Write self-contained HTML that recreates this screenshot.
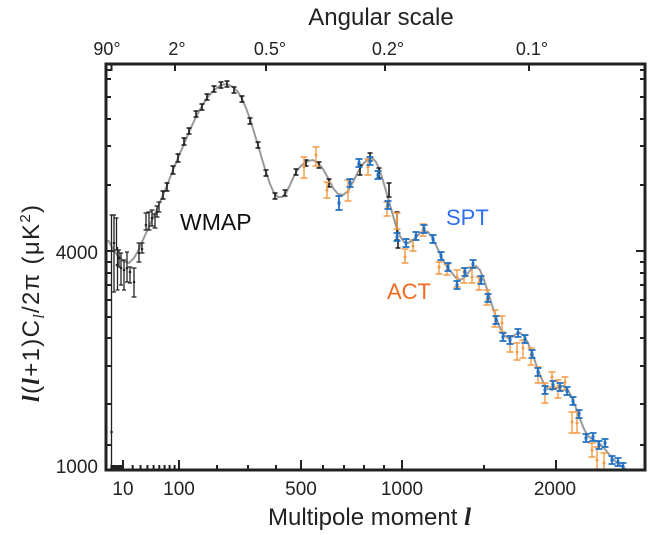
<!DOCTYPE html>
<html><head><meta charset="utf-8"><style>
html,body{margin:0;padding:0;background:#fff;}
svg{display:block;font-family:"Liberation Sans",Arial,sans-serif;}
</style></head><body>
<svg width="670" height="535" viewBox="0 0 670 535" xmlns="http://www.w3.org/2000/svg">
<rect width="670" height="535" fill="#fff"/>
<!-- titles -->
<text x="381" y="25" font-size="24" text-anchor="middle" fill="#222">Angular scale</text>
<text x="107" y="55" font-size="18" text-anchor="middle" fill="#222">90°</text>
<text x="177" y="55" font-size="18" text-anchor="middle" fill="#222">2°</text>
<text x="270" y="55" font-size="18" text-anchor="middle" fill="#222">0.5°</text>
<text x="388" y="55" font-size="18" text-anchor="middle" fill="#222">0.2°</text>
<text x="532" y="55" font-size="18" text-anchor="middle" fill="#222">0.1°</text>
<text x="123" y="495" font-size="19" text-anchor="middle" fill="#222">10</text>
<text x="179" y="495" font-size="19" text-anchor="middle" fill="#222">100</text>
<text x="301" y="495" font-size="19" text-anchor="middle" fill="#222">500</text>
<text x="402" y="495" font-size="19" text-anchor="middle" fill="#222">1000</text>
<text x="555" y="495" font-size="19" text-anchor="middle" fill="#222">2000</text>
<text x="268" y="525" font-size="24" fill="#222">Multipole moment <tspan font-family="Liberation Serif,serif" font-style="italic" font-weight="bold" font-size="25">l</tspan></text>
<text x="98" y="259" font-size="19" text-anchor="end" fill="#222">4000</text>
<text x="98" y="473" font-size="19" text-anchor="end" fill="#222">1000</text>
<text transform="translate(39,402) rotate(-90)" font-size="24" fill="#222" textLength="197" lengthAdjust="spacing"><tspan font-family="Liberation Serif,serif" font-style="italic" font-weight="bold">l</tspan>(<tspan font-family="Liberation Serif,serif" font-style="italic" font-weight="bold">l</tspan>+1)C<tspan font-family="Liberation Serif,serif" font-style="italic" font-size="16" dy="5">l</tspan><tspan dy="-5">/2π (μK</tspan><tspan font-size="15" dy="-9">2</tspan><tspan dy="9">)</tspan></text>

<!-- ticks -->
<g stroke="#222" stroke-width="2" fill="none">
<path d="M111.5 64v7M175 64v7M266 64v7M385 64v7M529 64v7"/>
<path d="M123 470v-10M179 470v-10M301 470v-10M402 470v-10M556 470v-10"/>
<path d="M111.4 470v-5M113.3 470v-5M115 470v-5M116.6 470v-5M118 470v-5M119.4 470v-5M120.6 470v-5M121.8 470v-5M132.7 470v-5M140.5 470v-5M147.4 470v-5M153.6 470v-5M159.3 470v-5M164.6 470v-5M169.6 470v-5M174.6 470v-5M217 470v-5M248 470v-5M276 470v-5M323 470v-5M344 470v-5M364 470v-5M384 470v-5M484 470v-5"/>
<path d="M106 70h5M106 79h5M106 97h5M106 119h5M106 146h5M106 185h5M106 251h9M106 262h5M106 273h5M106 285h5M106 300h5M106 317h5M106 338h5M106 366h5M106 404h5M106 445h5"/>
<path d="M645 70h-5M645 79h-5M645 97h-5M645 119h-5M645 146h-5M645 185h-5M645 251h-9M645 262h-5M645 273h-5M645 285h-5M645 300h-5M645 317h-5M645 338h-5M645 366h-5M645 404h-5M645 445h-5"/>
</g>

<!-- theory curve -->
<polyline fill="none" stroke="#9a9a9a" stroke-width="2" points="108,240 112,247 117,255 123,261 129,263 134,258 138,251 142,242 147,231 152,220 158,207 163,195 168,183 173,170 178,158 184,144 189,132 196,117 202,106 207,98 214,90 221,85 227,84 233,87 238,92 242,99 246,108 250,119 254,132 258,145 262,159 266,172 270,184 274,193 278,197 282,197 286,193 290,185 294,176 298,169 303,164 308,161 313,160 318,163 323,169 328,178 333,188 338,194 343,195 348,191 353,182 358,172 363,164 368,159 372,158 376,162 380,171 384,184 388,198 392,212 396,226 400,236 404,242 408,243 412,241 416,237 420,233 424,231 428,232 432,237 436,245 440,254 444,262 448,268 452,273 456,278 460,280 464,278 468,273 472,268 476,266 480,270 484,280 488,292 492,305 496,317 500,328 504,335 508,338 512,337 516,334 520,333 524,336 528,343 532,353 536,364 540,375 544,384 548,389 552,390 556,388 560,386 564,386 568,390 572,398 576,408 580,419 584,429 588,436 592,439 596,441 600,444 604,448 608,453 612,458 616,462 620,465 624,468 627,470"/>

<!-- WMAP points -->
<g stroke="#222" stroke-width="1.3" fill="none">
<path d="M111.5 215V468M109.5 215h4"/>
<path d="M114 215V292M112 215h4M112 292h4"/>
<path d="M116.5 218V250M114.5 218h4M114.5 250h4"/>
<path d="M117.5 247V290M115.5 290h4"/>
<path d="M119 250V267M117 250h4M117 267h4"/>
<path d="M121 253V285M119 253h4M119 285h4"/>
<path d="M124 260V290M122 260h4M122 290h4"/>
<path d="M127 252V282M125 252h4M125 282h4"/>
<path d="M130 267V283M128 267h4M128 283h4"/>
<path d="M134 268V297M131.5 268h5M131.5 297h5"/>
<path d="M139 243V262M136.5 243h5M136.5 262h5"/>
<path d="M142 243V253M139.5 243h5M139.5 253h5"/>
<path d="M146 213V230M143.5 213h5M143.5 230h5"/>
<path d="M149 212V230M146.5 212h5M146.5 230h5"/>
<path d="M152 210V226M149.5 210h5M149.5 226h5"/>
<path d="M155 214V228M152.5 214h5M152.5 228h5"/>
<path d="M157 206V217M154.5 206h5M154.5 217h5"/>
<path d="M159 202V212M156.5 202h5M156.5 212h5"/>
</g>
<g fill="#222">
<circle cx="111.5" cy="432" r="1.3"/><circle cx="114" cy="243" r="1.3"/><circle cx="117" cy="265" r="1.3"/><circle cx="119" cy="258" r="1.3"/><circle cx="121" cy="268" r="1.3"/><circle cx="124" cy="270" r="1.3"/><circle cx="127" cy="268" r="1.3"/><circle cx="130" cy="272" r="1.3"/><circle cx="134" cy="282" r="1.3"/><circle cx="139" cy="253" r="1.3"/><circle cx="142" cy="249" r="1.3"/><circle cx="146" cy="225" r="1.3"/><circle cx="152" cy="218" r="1.3"/><circle cx="157" cy="212" r="1.3"/>
</g>
<g stroke="#1a1a1a" stroke-width="1.6" fill="none">
<path d="M163 191V199M160.5 191h5M160.5 199h5"/>
<path d="M167 183V191M164.5 183h5M164.5 191h5"/>
<path d="M173 166V174M170.5 166h5M170.5 174h5"/>
<path d="M178 154V162M175.5 154h5M175.5 162h5"/>
<path d="M184 138V145M181.5 138h5M181.5 145h5"/>
<path d="M189 128V134M186.5 128h5M186.5 134h5"/>
<path d="M196 111V117M193.5 111h5M193.5 117h5"/>
<path d="M202 104V110M199.5 104h5M199.5 110h5"/>
<path d="M207 94V100M204.5 94h5M204.5 100h5"/>
<path d="M214 86V92M211.5 86h5M211.5 92h5"/>
<path d="M221 82V88M218.5 82h5M218.5 88h5"/>
<path d="M227 81V87M224.5 81h5M224.5 87h5"/>
<path d="M234 87V93M231.5 87h5M231.5 93h5"/>
<path d="M242 96V102M239.5 96h5M239.5 102h5"/>
<path d="M250 118V124M247.5 118h5M247.5 124h5"/>
<path d="M258 142V148M255.5 142h5M255.5 148h5"/>
<path d="M266 170V176M263.5 170h5M263.5 176h5"/>
<path d="M275 193V199M272.5 193h5M272.5 199h5"/>
<path d="M285 190V196M282.5 190h5M282.5 196h5"/>
<path d="M296 169V175M293.5 169h5M293.5 175h5"/>
<path d="M306 160V166M303.5 160h5M303.5 166h5"/>
<path d="M319 162V168M316.5 162h5M316.5 168h5"/>
<path d="M329 179V187M326.5 179h5M326.5 187h5"/>
<path d="M360 165V175M357.5 165h5M357.5 175h5"/>
<path d="M370 153V161M367.5 153h5M367.5 161h5"/>
<path d="M379 168V178M376.5 168h5M376.5 178h5"/>
<path d="M389 183V197M386.5 183h5M386.5 197h5"/>
<path d="M397 212V240M394.5 212h5M394.5 240h5"/>
<path d="M398 240V248M395.5 248h5"/>
</g>

<!-- ACT orange -->
<g stroke="#f39a45" stroke-width="1.4" fill="none">
<path d="M304 157V178M300.5 157h7M300.5 178h7"/>
<path d="M316 147V166M312.5 147h7M312.5 166h7"/>
<path d="M327 182V198M323.5 182h7M323.5 198h7"/>
<path d="M348 180V201M344.5 180h7M344.5 201h7"/>
<path d="M368 159V175M364.5 159h7M364.5 175h7"/>
<path d="M387 202V216M383.5 202h7M383.5 216h7"/>
<path d="M397 213V229M393.5 213h7M393.5 229h7"/>
<path d="M405 249V263M401.5 249h7M401.5 263h7"/>
<path d="M413 240V251M409.5 240h7M409.5 251h7"/>
<path d="M423 224V236M419.5 224h7M419.5 236h7"/>
<path d="M439 262V274M435.5 262h7M435.5 274h7"/>
<path d="M447 264V275M443.5 264h7M443.5 275h7"/>
<path d="M457 270V287M453.5 270h7M453.5 287h7"/>
<path d="M464 268V283M460.5 268h7M460.5 283h7"/>
<path d="M472 267V283M468.5 267h7M468.5 283h7"/>
<path d="M479 277V290M475.5 277h7M475.5 290h7"/>
<path d="M487 290V305M483.5 290h7M483.5 305h7"/>
<path d="M495 310V327M491.5 310h7M491.5 327h7"/>
<path d="M502 316V332M498.5 316h7M498.5 332h7"/>
<path d="M510 336V352M506.5 336h7M506.5 352h7"/>
<path d="M517 343V360M513.5 343h7M513.5 360h7"/>
<path d="M523 340V358M519.5 340h7M519.5 358h7"/>
<path d="M531 348V365M527.5 348h7M527.5 365h7"/>
<path d="M538 367V383M534.5 367h7M534.5 383h7"/>
<path d="M545 383V403M541.5 383h7M541.5 403h7"/>
<path d="M552 372V387M548.5 372h7M548.5 387h7"/>
<path d="M558 380V398M554.5 380h7M554.5 398h7"/>
<path d="M565 377V390M561.5 377h7M561.5 390h7"/>
<path d="M572 412V433M568.5 412h7M568.5 433h7"/>
<path d="M577 412V433M573.5 412h7M573.5 433h7"/>
<path d="M592 443V457M588.5 443h7M588.5 457h7"/>
<path d="M597 447V470M593.5 447h7"/>
<path d="M604 453V470M600.5 453h7"/>
</g>
<g fill="#f39a45">
<circle cx="304" cy="167" r="1.5"/><circle cx="316" cy="155" r="1.5"/><circle cx="327" cy="190" r="1.5"/><circle cx="348" cy="192" r="1.5"/><circle cx="368" cy="167" r="1.5"/><circle cx="387" cy="207" r="1.5"/><circle cx="397" cy="220" r="1.5"/><circle cx="405" cy="257" r="1.5"/><circle cx="413" cy="246" r="1.5"/><circle cx="423" cy="230" r="1.5"/><circle cx="439" cy="267" r="1.5"/><circle cx="447" cy="270" r="1.5"/><circle cx="457" cy="277" r="1.5"/><circle cx="464" cy="272" r="1.5"/><circle cx="472" cy="277" r="1.5"/><circle cx="479" cy="283" r="1.5"/><circle cx="487" cy="300" r="1.5"/><circle cx="495" cy="317" r="1.5"/><circle cx="502" cy="323" r="1.5"/><circle cx="510" cy="343" r="1.5"/><circle cx="517" cy="352" r="1.5"/><circle cx="523" cy="348" r="1.5"/><circle cx="531" cy="355" r="1.5"/><circle cx="538" cy="375" r="1.5"/><circle cx="545" cy="393" r="1.5"/><circle cx="552" cy="377" r="1.5"/><circle cx="558" cy="387" r="1.5"/><circle cx="565" cy="382" r="1.5"/><circle cx="572" cy="422" r="1.5"/><circle cx="577" cy="423" r="1.5"/><circle cx="592" cy="450" r="1.5"/><circle cx="597" cy="460" r="1.5"/><circle cx="604" cy="463" r="1.5"/>
</g>

<!-- SPT blue -->
<g stroke="#1f70c4" stroke-width="1.8" fill="none">
<path d="M339 196V210M335.5 196h7M335.5 210h7"/>
<path d="M350 179V187M346.5 179h7M346.5 187h7"/>
<path d="M359 159V167M355.5 159h7M355.5 167h7"/>
<path d="M370 157V165M366.5 157h7M366.5 165h7"/>
<path d="M378 171V179M374.5 171h7M374.5 179h7"/>
<path d="M388 201V209M384.5 201h7M384.5 209h7"/>
<path d="M397 233V241M393.5 233h7M393.5 241h7"/>
<path d="M406 239V247M402.5 239h7M402.5 247h7"/>
<path d="M416 232V240M412.5 232h7M412.5 240h7"/>
<path d="M424 225V233M420.5 225h7M420.5 233h7"/>
<path d="M433 235V243M429.5 235h7M429.5 243h7"/>
<path d="M441 252V260M437.5 252h7M437.5 260h7"/>
<path d="M448 263V271M444.5 263h7M444.5 271h7"/>
<path d="M457 281V289M453.5 281h7M453.5 289h7"/>
<path d="M465 268V276M461.5 268h7M461.5 276h7"/>
<path d="M473 260V268M469.5 260h7M469.5 268h7"/>
<path d="M481 276V284M477.5 276h7M477.5 284h7"/>
<path d="M488 294V302M484.5 294h7M484.5 302h7"/>
<path d="M496 316V324M492.5 316h7M492.5 324h7"/>
<path d="M503 333V341M499.5 333h7M499.5 341h7"/>
<path d="M510 336V344M506.5 336h7M506.5 344h7"/>
<path d="M518 329V337M514.5 329h7M514.5 337h7"/>
<path d="M525 335V343M521.5 335h7M521.5 343h7"/>
<path d="M532 350V358M528.5 350h7M528.5 358h7"/>
<path d="M538 368V376M534.5 368h7M534.5 376h7"/>
<path d="M545 386V394M541.5 386h7M541.5 394h7"/>
<path d="M553 381V389M549.5 381h7M549.5 389h7"/>
<path d="M560 383V391M556.5 383h7M556.5 391h7"/>
<path d="M567 387V395M563.5 387h7M563.5 395h7"/>
<path d="M573 397V405M569.5 397h7M569.5 405h7"/>
<path d="M579 410V418M575.5 410h7M575.5 418h7"/>
<path d="M586 434V442M582.5 434h7M582.5 442h7"/>
<path d="M593 433V441M589.5 433h7M589.5 441h7"/>
<path d="M599 441V449M595.5 441h7M595.5 449h7"/>
<path d="M605 439V447M601.5 439h7M601.5 447h7"/>
<path d="M612 456V464M608.5 456h7M608.5 464h7"/>
<path d="M618 458V466M614.5 458h7M614.5 466h7"/>
<path d="M623 463V470M619.5 463h7"/>
</g>
<g fill="#1f70c4">
<rect x="337.5" y="201.5" width="3" height="3"/><rect x="348.5" y="181.5" width="3" height="3"/><rect x="357.5" y="161.5" width="3" height="3"/><rect x="368.5" y="159.5" width="3" height="3"/><rect x="376.5" y="173.5" width="3" height="3"/><rect x="386.5" y="203.5" width="3" height="3"/><rect x="395.5" y="235.5" width="3" height="3"/><rect x="404.5" y="241.5" width="3" height="3"/><rect x="414.5" y="234.5" width="3" height="3"/><rect x="422.5" y="227.5" width="3" height="3"/><rect x="431.5" y="237.5" width="3" height="3"/><rect x="439.5" y="254.5" width="3" height="3"/><rect x="446.5" y="265.5" width="3" height="3"/><rect x="455.5" y="283.5" width="3" height="3"/><rect x="463.5" y="270.5" width="3" height="3"/><rect x="471.5" y="262.5" width="3" height="3"/><rect x="479.5" y="278.5" width="3" height="3"/><rect x="486.5" y="296.5" width="3" height="3"/><rect x="494.5" y="318.5" width="3" height="3"/><rect x="501.5" y="335.5" width="3" height="3"/><rect x="508.5" y="338.5" width="3" height="3"/><rect x="516.5" y="331.5" width="3" height="3"/><rect x="523.5" y="337.5" width="3" height="3"/><rect x="530.5" y="352.5" width="3" height="3"/><rect x="536.5" y="370.5" width="3" height="3"/><rect x="543.5" y="388.5" width="3" height="3"/><rect x="551.5" y="383.5" width="3" height="3"/><rect x="558.5" y="385.5" width="3" height="3"/><rect x="565.5" y="389.5" width="3" height="3"/><rect x="571.5" y="399.5" width="3" height="3"/><rect x="577.5" y="412.5" width="3" height="3"/><rect x="584.5" y="436.5" width="3" height="3"/><rect x="591.5" y="435.5" width="3" height="3"/><rect x="597.5" y="443.5" width="3" height="3"/><rect x="603.5" y="441.5" width="3" height="3"/><rect x="610.5" y="458.5" width="3" height="3"/><rect x="616.5" y="460.5" width="3" height="3"/><rect x="621.5" y="465" width="3" height="3"/>
</g>

<!-- labels -->
<text x="180" y="230" font-size="23" fill="#111">WMAP</text>
<text x="446" y="225" font-size="22" fill="#2f6ef0">SPT</text>
<text x="387" y="299" font-size="22" fill="#f26a21">ACT</text>

<!-- frame -->
<rect x="106" y="64" width="539" height="406" fill="none" stroke="#222" stroke-width="3"/>
</svg>
</body></html>
